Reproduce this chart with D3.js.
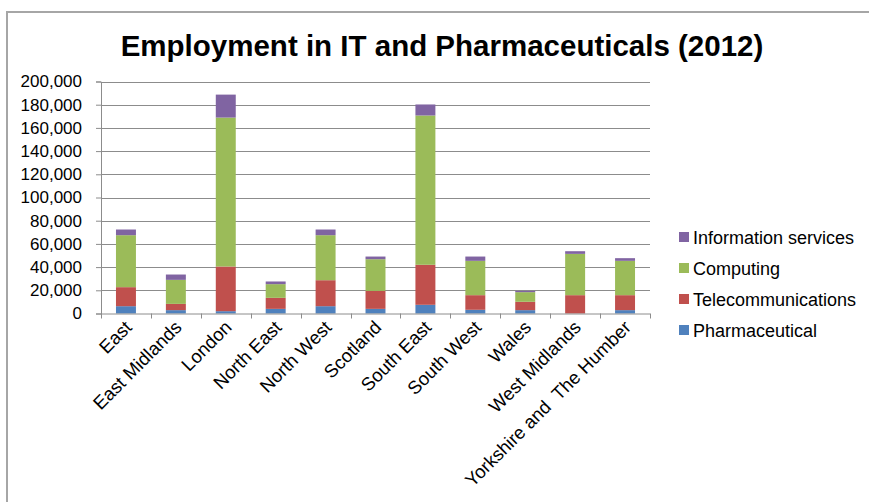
<!DOCTYPE html>
<html>
<head>
<meta charset="utf-8">
<script src="https://cdn.jsdelivr.net/npm/d3@7"></script>
<style>
  body { margin: 0; background: #fff; }
  svg text { font-family: "Liberation Sans", Arial, sans-serif; fill: #000; }
</style>
</head>
<body>
<div id="chart"></div>
<script>
// regions along the x axis
const regions = ["East", "East Midlands", "London", "North East", "North West", "Scotland",
    "South East", "South West", "Wales", "West Midlands", "Yorkshire and  The Humber"];

// employees per sector
const pharmaceutical = [6300, 2900, 2000, 4000, 6300, 4000, 7500, 3200, 2900, 0, 2900];
const telecommunications = [16400, 5400, 38500, 9500, 22400, 15500, 34500, 12600, 7200, 15800, 12900];
const computing = [44800, 20700, 128400, 11800, 38800, 27300, 128700, 29600, 8300, 35600, 29600];
const informationServices = [4900, 4600, 19800, 2300, 4900, 2300, 9500, 3700, 1100, 2300, 2300];

const seriesNames = ["Pharmaceutical", "Telecommunications", "Computing", "Information services"];
const seriesColors = ["#4F81BD", "#C0504D", "#9BBB59", "#8064A2"];
const yTicks = [0, 20000, 40000, 60000, 80000, 100000, 120000, 140000, 160000, 180000, 200000];

const width = 869, height = 502;
const margin = {top: 81.5, left: 101, right: 219, bottom: 188.5};

const svg = d3.select("#chart").append("svg")
    .attr("width", width)
    .attr("height", height);

// chart frame (only top and left edges show)
svg.append("path")
    .attr("d", `M7,${height} V12 H${width}`)
    .attr("fill", "none")
    .attr("stroke", "#a6a6a6")
    .attr("stroke-width", 2);

svg.append("text")
    .attr("x", 442)
    .attr("y", 56)
    .attr("text-anchor", "middle")
    .attr("font-size", 29.5)
    .attr("font-weight", "bold")
    .text("Employment in IT and Pharmaceuticals (2012)");

// build table for stacking
const table = regions.map((r, i) => ({
    region: r,
    "Pharmaceutical": pharmaceutical[i],
    "Telecommunications": telecommunications[i],
    "Computing": computing[i],
    "Information services": informationServices[i]
}));
const stacked = d3.stack().keys(seriesNames)(table);

const x = d3.scaleBand()
    .domain(regions)
    .range([margin.left, width - margin.right])
    .paddingInner(0.6)
    .paddingOuter(0.3);

const y = d3.scaleLinear()
    .domain([0, 200000])
    .range([height - margin.bottom, margin.top]);

// gridlines
svg.append("g")
    .selectAll("line")
    .data(yTicks.slice(1))
    .join("line")
    .attr("x1", margin.left)
    .attr("x2", width - margin.right)
    .attr("y1", d => Math.round(y(d)) + 0.5)
    .attr("y2", d => Math.round(y(d)) + 0.5)
    .attr("stroke", "#8c8c8c")
    .attr("stroke-width", 1);

// y axis
const yAxis = svg.append("g")
    .attr("transform", `translate(${margin.left},0)`)
    .call(d3.axisLeft(y).tickValues(yTicks).tickFormat(d3.format(",")).tickSize(5).tickPadding(14));
yAxis.selectAll("text").attr("font-size", 17).style("font-family", "Liberation Sans, Arial, sans-serif");
yAxis.selectAll("line, path").attr("stroke", "#8c8c8c");

// bars
svg.append("g")
    .selectAll("g")
    .data(stacked)
    .join("g")
    .attr("fill", (d, i) => seriesColors[i])
    .selectAll("rect")
    .data(d => d)
    .join("rect")
    .attr("x", d => x(d.data.region))
    .attr("width", x.bandwidth())
    .attr("y", d => y(d[1]))
    .attr("height", d => y(d[0]) - y(d[1]));

// x axis with ticks between categories
const x0 = height - margin.bottom;
const xAxis = svg.append("g");
xAxis.append("line")
    .attr("x1", margin.left).attr("x2", width - margin.right)
    .attr("y1", x0 + 0.5).attr("y2", x0 + 0.5)
    .attr("stroke", "#8c8c8c");
xAxis.selectAll(".tick")
    .data(d3.range(regions.length + 1))
    .join("line")
    .attr("x1", i => Math.round(margin.left + i * x.step()) + 0.5)
    .attr("x2", i => Math.round(margin.left + i * x.step()) + 0.5)
    .attr("y1", x0)
    .attr("y2", x0 + 5)
    .attr("stroke", "#8c8c8c");
xAxis.selectAll("text")
    .data(regions)
    .join("text")
    .attr("transform", d => `translate(${x(d) + x.bandwidth() / 2 + 7},${x0 + 15}) rotate(-45)`)
    .attr("text-anchor", "end")
    .attr("font-size", 18.5)
    .style("white-space", "pre")
    .text(d => d);

// legend, listed top-down in reverse stack order
const legend = svg.append("g")
    .selectAll("g")
    .data(seriesNames.slice().reverse())
    .join("g")
    .attr("transform", (d, i) => `translate(679,${232 + i * 31})`);
legend.append("rect")
    .attr("width", 10)
    .attr("height", 10)
    .attr("fill", d => seriesColors[seriesNames.indexOf(d)]);
legend.append("text")
    .attr("x", 14)
    .attr("y", 12)
    .attr("font-size", 18)
    .text(d => d);
</script>
</body>
</html>
